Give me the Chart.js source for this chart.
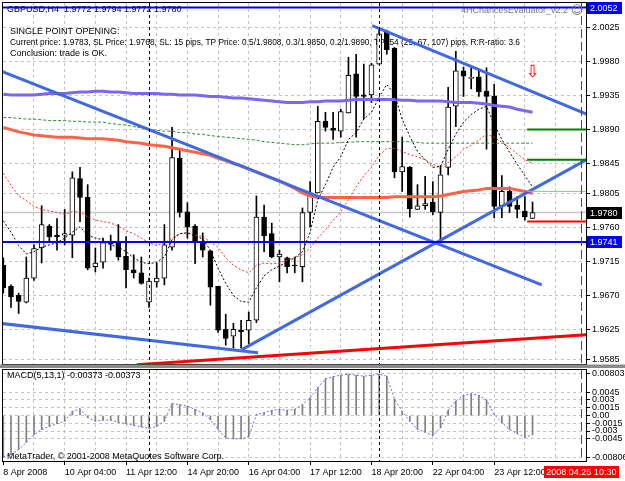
<!DOCTYPE html>
<html>
<head>
<meta charset="utf-8">
<script src="https://cdn.jsdelivr.net/npm/chart.js@4.4.0/dist/chart.umd.min.js"></script>
<style>
  html, body { margin: 0; padding: 0; background: #fff; }
  #wrap { position: relative; width: 625px; height: 481px; overflow: hidden; background: #fff; }
  #priceChart { position: absolute; left: 0; top: 0; }
  #macdChart { position: absolute; left: 0; top: 368px; }
</style>
</head>
<body>
<div id="wrap">
  <canvas id="priceChart" width="625" height="368"></canvas>
  <canvas id="macdChart" width="625" height="113"></canvas>
</div>
<script>
// GBPUSD H4 bars, index 0 = 8 Apr 2008 00:00
var opens = [1.9710,1.9682,1.9670,1.9661,1.9693,1.9733,1.9762,1.9750,1.9750,1.9750,
  1.9825,1.9800,1.9708,1.9714,1.9741,1.9741,1.9722,1.9704,1.9700,1.9661,
  1.9688,1.9693,1.9734,1.9852,1.9781,1.9762,1.9740,1.9729,1.9682,1.9625,
  1.9616,1.9624,1.9624,1.9637,1.9774,1.9752,1.9721,1.9720,1.9710,1.9708,
  1.9780,1.9806,1.9901,1.9892,1.9888,1.9912,1.9964,1.9936,1.9936,1.9977,
  2.0020,1.9998,1.9834,1.9840,1.9784,1.9789,1.9794,1.9780,1.9840,1.9921,
  1.9968,1.9958,1.9960,1.9941,1.9934,1.9789,1.9808,1.9790,1.9782,1.9772];
var highs = [1.9720,1.9684,1.9673,1.9721,1.9737,1.9789,1.9764,1.9772,1.9784,1.9834,
  1.9840,1.9817,1.9733,1.9746,1.9750,1.9764,1.9748,1.9724,1.9721,1.9693,
  1.9713,1.9764,1.9893,1.9864,1.9793,1.9764,1.9753,1.9730,1.9682,1.9645,
  1.9633,1.9637,1.9648,1.9802,1.9790,1.9766,1.9730,1.9721,1.9721,1.9786,
  1.9821,1.9921,1.9913,1.9913,1.9917,1.9986,1.9990,1.9977,1.9978,2.0022,
  2.0022,1.9999,1.9880,1.9841,1.9817,1.9828,1.9821,1.9842,1.9946,1.9994,
  1.9973,1.9972,1.9968,1.9972,1.9950,1.9829,1.9814,1.9801,1.9801,1.9794];
var lows = [1.9673,1.9654,1.9646,1.9660,1.9690,1.9713,1.9740,1.9730,1.9737,1.9720,
  1.9768,1.9704,1.9701,1.9706,1.9730,1.9717,1.9680,1.9693,1.9685,1.9654,
  1.9681,1.9684,1.9730,1.9774,1.9746,1.9712,1.9721,1.9657,1.9621,1.9604,
  1.9600,1.9600,1.9606,1.9634,1.9728,1.9720,1.9688,1.9700,1.9700,1.9688,
  1.9761,1.9806,1.9888,1.9877,1.9880,1.9912,1.9880,1.9904,1.9926,1.9977,
  1.9990,1.9826,1.9808,1.9774,1.9784,1.9784,1.9777,1.9741,1.9830,1.9894,
  1.9934,1.9944,1.9934,1.9864,1.9773,1.9773,1.9780,1.9773,1.9770,1.9772];
var closes = [1.9680,1.9668,1.9662,1.9693,1.9732,1.9764,1.9748,1.9748,1.9752,1.9826,
  1.9800,1.9706,1.9713,1.9740,1.9738,1.9721,1.9704,1.9700,1.9686,1.9689,
  1.9693,1.9737,1.9853,1.9780,1.9761,1.9740,1.9730,1.9681,1.9624,1.9613,
  1.9625,1.9622,1.9637,1.9774,1.9749,1.9721,1.9725,1.9708,1.9709,1.9780,
  1.9806,1.9901,1.9893,1.9889,1.9914,1.9962,1.9934,1.9934,1.9976,2.0017,
  1.9996,1.9834,1.9841,1.9785,1.9789,1.9792,1.9781,1.9830,1.9920,1.9968,
  1.9961,1.9959,1.9940,1.9934,1.9788,1.9808,1.9788,1.9784,1.9774,1.9780];

// moving averages, one value per bar
var maPurple = [1.9937,1.9936,1.9936,1.9936,1.9936,1.9937,1.9938,1.9938,1.9938,1.9939,
  1.9940,1.9940,1.9941,1.9941,1.9940,1.9940,1.9939,1.9938,1.9938,1.9938,
  1.9938,1.9937,1.9937,1.9936,1.9936,1.9936,1.9935,1.9934,1.9934,1.9933,
  1.9932,1.9932,1.9931,1.9930,1.9929,1.9928,1.9927,1.9926,1.9926,1.9926,
  1.9927,1.9927,1.9928,1.9928,1.9928,1.9929,1.9930,1.9930,1.9930,1.9930,
  1.9930,1.9930,1.9929,1.9929,1.9928,1.9928,1.9928,1.9928,1.9927,1.9926,
  1.9926,1.9926,1.9925,1.9924,1.9922,1.9921,1.9920,1.9917,1.9915,1.9913];
var maGreen = [1.9906,1.9906,1.9905,1.9904,1.9904,1.9903,1.9902,1.9902,1.9902,1.9901,
  1.9901,1.9900,1.9900,1.9900,1.9898,1.9897,1.9896,1.9894,1.9892,1.9890,
  1.9889,1.9888,1.9888,1.9886,1.9886,1.9884,1.9884,1.9882,1.9881,1.9880,
  1.9879,1.9878,1.9877,1.9876,1.9874,1.9873,1.9872,1.9871,1.9870,1.9870,
  1.9871,1.9872,1.9872,1.9872,1.9873,1.9873,1.9874,1.9874,1.9874,1.9874,
  1.9874,1.9874,1.9874,1.9874,1.9873,1.9872,1.9872,1.9872,1.9872,1.9872,
  1.9872,1.9872,1.9872,1.9872,1.9872,1.9872,1.9872,1.9872,1.9872,1.9872];
var maOrange = [1.9893,1.9890,1.9887,1.9885,1.9883,1.9882,1.9881,1.9880,1.9880,1.9880,
  1.9879,1.9878,1.9878,1.9878,1.9877,1.9876,1.9874,1.9873,1.9872,1.9870,
  1.9869,1.9868,1.9866,1.9864,1.9862,1.9860,1.9858,1.9856,1.9852,1.9849,
  1.9845,1.9842,1.9838,1.9834,1.9830,1.9826,1.9822,1.9817,1.9812,1.9806,
  1.9802,1.9800,1.9800,1.9800,1.9800,1.9800,1.9800,1.9800,1.9800,1.9800,
  1.9800,1.9801,1.9801,1.9801,1.9801,1.9801,1.9801,1.9802,1.9804,1.9806,
  1.9808,1.9809,1.9810,1.9812,1.9812,1.9812,1.9812,1.9810,1.9808,1.9805];
var maFast = [1.9769,1.9754,1.9736,1.9725,1.9728,1.9734,1.9737,1.9740,1.9746,1.9754,
  1.9761,1.9750,1.9746,1.9744,1.9737,1.9734,1.9728,1.9720,1.9714,1.9712,
  1.9714,1.9721,1.9744,1.9752,1.9753,1.9749,1.9745,1.9730,1.9706,1.9686,
  1.9670,1.9662,1.9661,1.9680,1.9696,1.9704,1.9709,1.9714,1.9720,1.9728,
  1.9754,1.9797,1.9817,1.9840,1.9854,1.9877,1.9886,1.9904,1.9913,1.9933,
  1.9950,1.9937,1.9904,1.9881,1.9861,1.9850,1.9840,1.9841,1.9864,1.9884,
  1.9900,1.9910,1.9917,1.9921,1.9897,1.9877,1.9860,1.9844,1.9829,1.9814];
var maSlow = [1.9832,1.9816,1.9802,1.9796,1.9788,1.9784,1.9782,1.9780,1.9778,1.9781,
  1.9781,1.9774,1.9770,1.9768,1.9766,1.9762,1.9756,1.9752,1.9746,1.9740,
  1.9736,1.9740,1.9746,1.9752,1.9753,1.9750,1.9748,1.9741,1.9734,1.9720,
  1.9710,1.9704,1.9700,1.9710,1.9713,1.9712,1.9713,1.9717,1.9720,1.9724,
  1.9733,1.9746,1.9757,1.9770,1.9781,1.9797,1.9814,1.9829,1.9840,1.9856,
  1.9865,1.9865,1.9861,1.9857,1.9854,1.9850,1.9844,1.9840,1.9846,1.9854,
  1.9864,1.9869,1.9876,1.9884,1.9880,1.9873,1.9866,1.9858,1.9850,1.9845];

// MACD(5,13,1) main value per bar (signal equals main)
var macd = [-0.0080,-0.0076,-0.0066,-0.0052,-0.0037,-0.0027,-0.0021,-0.0016,-0.0011,0.0008,
  0.0013,-0.0004,-0.0011,-0.0009,-0.0009,-0.0013,-0.0016,-0.0019,-0.0022,-0.0025,
  -0.0021,-0.0011,0.0023,0.0021,0.0018,0.0012,0.0005,-0.0008,-0.0027,-0.0043,
  -0.0045,-0.0045,-0.0041,0.0002,0.0005,0.0010,0.0012,0.0010,0.0012,0.0021,
  0.0034,0.0054,0.0071,0.0075,0.0078,0.0080,0.0078,0.0076,0.0078,0.0080,
  0.0076,0.0032,0.0008,-0.0011,-0.0027,-0.0032,-0.0039,-0.0024,0.0010,0.0028,
  0.0039,0.0042,0.0039,0.0030,0.0002,-0.0014,-0.0027,-0.0035,-0.0042,-0.00373];

// trend lines: [[bar, price], [bar, price]]
var blueTrends = [
  [[-0.4, 1.9968], [70.2, 1.9684]],
  [[-0.4, 1.9633], [33.2, 1.9594]],
  [[31.1, 1.9598], [76.2, 1.9851]],
  [[48.1, 2.0028], [76.2, 1.9910]]
];
var redTrend = [[17.4, 1.9578], [76.2, 1.9618]];

var blueLevels = [2.0052, 1.9741];
var bidPrice = 1.9780;
var slPrice = 1.9768;
var tpPrices = [1.9808, 1.9850, 1.9890];
var tradeStartBar = 68.3;
var separatorBars = [19, 49];
var expiryBar = 75.3;
var expiryLabel = '2008.04.25 10:30';
var arrowMarks = [[69, 1.9966]];

var priceTicks = [2.0025, 1.9980, 1.9935, 1.9890, 1.9845, 1.9805, 1.9760, 1.9715, 1.9670, 1.9625, 1.9585];
var macdTicks = [0.00803, 0.0045, 0.003, 0.0015, 0, -0.0015, -0.003, -0.0045, -0.00806];
var macdTickLabels = ['0.00803', '0.0045', '0.003', '0.0015', '0.00', '-0.0015', '-0.003', '-0.0045', '-0.00806'];
var timeLabelBars = [0, 8, 16, 24, 32, 40, 48, 56, 64];
var timeLabels = ['8 Apr 2008', '10 Apr 04:00', '11 Apr 12:00', '14 Apr 20:00', '16 Apr 04:00',
  '17 Apr 12:00', '18 Apr 20:00', '22 Apr 04:00', '23 Apr 12:00'];

var chartTitle = 'GBPUSD,H4  1.9772 1.9794 1.9772 1.9780';
var infoLines = [
  'SINGLE POINT OPENING:',
  'Current price: 1.9783, SL Price: 1.9768, SL: 15 pips, TP Price: 0.5/1.9808, 0.3/1.9850, 0.2/1.9890, TP: 54 (25, 67, 107) pips, R:R-ratio: 3.6',
  'Conclusion: trade is OK.'
];
var indicatorName = '4HChancesEvaluator_v2.2';
var macdTitle = 'MACD(5,13,1) -0.00373 -0.00373';
var copyright = 'MetaTrader, \u00a9 2001-2008 MetaQuotes Software Corp.';

var FONT = '"Liberation Sans", Arial, sans-serif';
var X_MIN = -0.04, X_MAX = 75.97;
var GRID = '#c4c4c4';

Chart.defaults.font.family = FONT;
Chart.defaults.font.size = 9;
Chart.defaults.color = '#000';

function series(values) {
  return values.map(function (v, i) { return {x: i, y: v}; });
}
function segment(a, b) {
  return [{x: a[0], y: a[1]}, {x: b[0], y: b[1]}];
}
function lineSet(data, color, width, dash, order) {
  return {type: 'line', data: data, borderColor: color, borderWidth: width, borderDash: dash || [],
    pointRadius: 0, tension: 0, fill: false, order: order};
}
function gridColor(c) {
  return c.tick && c.tick.value === 0 ? 'rgba(0,0,0,0)' : GRID;
}
function xTicks(scale) {
  var t = [];
  for (var b = 0; b <= 72; b += 4) t.push({value: b});
  scale.ticks = t;
}

function drawFrame(chart) {
  var a = chart.chartArea, ctx = chart.ctx;
  ctx.save();
  ctx.strokeStyle = '#000';
  ctx.lineWidth = 1;
  ctx.strokeRect(Math.round(a.left) - 0.5, Math.round(a.top) - 0.5,
    Math.round(a.right - a.left) + 1, Math.round(a.bottom - a.top) + 1);
  ctx.restore();
}

function drawVerticals(chart) {
  var ctx = chart.ctx, a = chart.chartArea, xs = chart.scales.x, x;
  ctx.save();
  ctx.lineWidth = 1;
  ctx.strokeStyle = '#000';
  ctx.setLineDash([3, 3]);
  separatorBars.forEach(function (b) {
    x = Math.round(xs.getPixelForValue(b)) + 0.5;
    ctx.beginPath(); ctx.moveTo(x, a.top); ctx.lineTo(x, a.bottom); ctx.stroke();
  });
  ctx.strokeStyle = '#ff0000';
  ctx.setLineDash([9, 4]);
  x = Math.round(xs.getPixelForValue(expiryBar)) + 0.5;
  ctx.beginPath(); ctx.moveTo(x, a.top); ctx.lineTo(x, a.bottom); ctx.stroke();
  ctx.restore();
}

function priceTag(chart, price, bg) {
  var ctx = chart.ctx;
  var y = chart.scales.y.getPixelForValue(price);
  ctx.save();
  ctx.fillStyle = bg;
  ctx.fillRect(587, Math.round(y) - 6, 35, 12);
  ctx.fillStyle = '#fff';
  ctx.font = '9px ' + FONT;
  ctx.textBaseline = 'middle';
  ctx.fillText(price.toFixed(4), 590, y + 0.5);
  ctx.restore();
}

var priceDecor = {
  id: 'priceDecor',
  beforeDatasetsDraw: function (chart) {
    var ctx = chart.ctx;
    ctx.save();
    ctx.font = '9px ' + FONT;
    ctx.fillStyle = '#000';
    ctx.textBaseline = 'middle';
    ctx.fillText(chartTitle, 7, 10);
    ctx.fillText(infoLines[0], 10, 32);
    ctx.fillText(infoLines[1], 10, 43, 510);
    ctx.fillText(infoLines[2], 10, 54);
    ctx.fillStyle = '#7a7a7a';
    ctx.textAlign = 'right';
    ctx.fillText(indicatorName, 568, 11);
    ctx.restore();
  },
  afterDatasetsDraw: function (chart) {
    var ctx = chart.ctx;
    drawVerticals(chart);
    ctx.save();
    ctx.fillStyle = '#ff0000';
    ctx.font = '17px "DejaVu Sans"';
    ctx.textAlign = 'center';
    ctx.textBaseline = 'middle';
    arrowMarks.forEach(function (m) {
      ctx.fillText('\u21e9', chart.scales.x.getPixelForValue(m[0]), chart.scales.y.getPixelForValue(m[1]));
    });
    ctx.restore();
  },
  afterDraw: function (chart) {
    var ctx = chart.ctx;
    drawFrame(chart);
    priceTag(chart, blueLevels[0], '#0000ff');
    priceTag(chart, bidPrice, '#000000');
    priceTag(chart, blueLevels[1], '#0000ff');
    ctx.save();
    ctx.fillStyle = '#8c8c8c';
    ctx.fillRect(0, 364.5, 625, 3.5);
    ctx.fillStyle = '#707070';
    ctx.font = '12px "DejaVu Sans"';
    ctx.textAlign = 'center';
    ctx.textBaseline = 'middle';
    ctx.fillText('\u263a', 577, 11);
    ctx.restore();
  }
};

var macdDecor = {
  id: 'macdDecor',
  afterDatasetsDraw: function (chart) {
    var ctx = chart.ctx;
    drawVerticals(chart);
    ctx.save();
    ctx.font = '9px ' + FONT;
    ctx.fillStyle = '#000';
    ctx.textBaseline = 'middle';
    ctx.fillText(macdTitle, 7, 8);
    ctx.fillText(copyright, 7, 89);
    ctx.restore();
  },
  afterDraw: function (chart) {
    var ctx = chart.ctx;
    drawFrame(chart);
    var x = chart.scales.x.getPixelForValue(expiryBar);
    ctx.save();
    ctx.fillStyle = '#ff0000';
    ctx.fillRect(Math.round(x) - 37, 98, 75, 12);
    ctx.fillStyle = '#fff';
    ctx.font = '9px ' + FONT;
    ctx.textAlign = 'center';
    ctx.textBaseline = 'middle';
    ctx.fillText(expiryLabel, x + 0.5, 104.5);
    ctx.restore();
  }
};

var bodyColors = closes.map(function (c, i) { return c >= opens[i] ? '#ffffff' : '#000000'; });

var priceSets = [
  lineSet(segment([X_MIN, bidPrice], [X_MAX, bidPrice]), '#c8c8c8', 1.5, null, 95),
  {type: 'bar', data: lows.map(function (l, i) { return {x: i, y: [l, highs[i]]}; }),
    backgroundColor: '#000', barThickness: 1, grouped: false, order: 90},
  {type: 'bar', data: opens.map(function (o, i) { return {x: i, y: [o, closes[i]]}; }),
    backgroundColor: bodyColors, borderColor: '#000', borderWidth: 1, borderSkipped: false,
    barThickness: 5, minBarLength: 1, grouped: false, order: 80},
  lineSet(series(maGreen), '#2e8b2e', 1, [3, 2], 60),
  lineSet(series(maPurple), '#7b68ee', 3, null, 58),
  lineSet(series(maOrange), '#ff6347', 3, null, 56),
  lineSet(series(maSlow), '#ff2a2a', 1, [2, 2], 54),
  lineSet(series(maFast), '#000000', 1, [2, 2], 52),
  lineSet(segment(redTrend[0], redTrend[1]), '#ff0000', 3, null, 21)
];
blueTrends.forEach(function (t) {
  priceSets.push(lineSet(segment(t[0], t[1]), '#4169e1', 3, null, 20));
});
blueLevels.forEach(function (p) {
  priceSets.push(lineSet(segment([X_MIN, p], [X_MAX, p]), '#0000ff', 2, null, 10));
});
priceSets.push(lineSet(segment([tradeStartBar, slPrice], [X_MAX, slPrice]), '#ff0000', 2, null, 11));
tpPrices.forEach(function (p, i) {
  priceSets.push(lineSet(segment([tradeStartBar, p], [X_MAX, p]),
    i === 0 ? '#80d080' : '#008000', i === 0 ? 1 : 2, null, 12));
});

new Chart(document.getElementById('priceChart'), {
  type: 'bar',
  data: {datasets: priceSets},
  options: {
    responsive: false,
    animation: false,
    devicePixelRatio: 1,
    events: [],
    layout: {padding: {left: 3, top: 3, right: 0, bottom: 4}},
    plugins: {legend: {display: false}, tooltip: {enabled: false}},
    scales: {
      x: {
        type: 'linear', min: X_MIN, max: X_MAX, offset: false,
        afterBuildTicks: xTicks,
        afterFit: function (s) { s.height = 0; s.paddingLeft = 0; s.paddingRight = 0; },
        ticks: {display: false},
        grid: {color: gridColor, drawTicks: false, offset: false},
        border: {display: false, dash: [3, 3]}
      },
      y: {
        position: 'right', min: 1.9579, max: 2.0058,
        afterBuildTicks: function (s) { s.ticks = priceTicks.map(function (v) { return {value: v}; }); },
        afterFit: function (s) { s.width = 39; s.paddingTop = 0; s.paddingBottom = 0; },
        ticks: {autoSkip: false, padding: 2, callback: function (v) { return v.toFixed(4); }},
        grid: {color: GRID, tickColor: '#000', tickLength: 4},
        border: {display: false, dash: [3, 3]}
      }
    }
  },
  plugins: [priceDecor]
});

new Chart(document.getElementById('macdChart'), {
  type: 'bar',
  data: {
    datasets: [
      {type: 'bar', data: series(macd), backgroundColor: '#808080', barThickness: 1, grouped: false, order: 20},
      lineSet(series(macd), '#6a6ae6', 1, [2, 2], 10)
    ]
  },
  options: {
    responsive: false,
    animation: false,
    devicePixelRatio: 1,
    events: [],
    layout: {padding: {left: 3, top: 2, right: 0, bottom: 0}},
    plugins: {legend: {display: false}, tooltip: {enabled: false}},
    scales: {
      x: {
        type: 'linear', min: X_MIN, max: X_MAX, offset: false,
        afterBuildTicks: xTicks,
        afterFit: function (s) { s.height = 20; s.paddingLeft = 0; s.paddingRight = 0; },
        ticks: {
          autoSkip: false, maxRotation: 0, align: 'start', padding: 2,
          callback: function (v) {
            var k = timeLabelBars.indexOf(v);
            return k >= 0 ? timeLabels[k] : '';
          }
        },
        grid: {
          color: gridColor, offset: false, tickLength: 4,
          tickColor: function (c) {
            return c.tick && timeLabelBars.indexOf(c.tick.value) >= 0 ? '#000' : 'rgba(0,0,0,0)';
          }
        },
        border: {display: false, dash: [3, 3]}
      },
      y: {
        position: 'right', min: -0.0088, max: 0.0088,
        afterBuildTicks: function (s) { s.ticks = macdTicks.map(function (v) { return {value: v}; }); },
        afterFit: function (s) { s.width = 39; s.paddingTop = 0; s.paddingBottom = 0; },
        ticks: {autoSkip: false, padding: 2, callback: function (v, i) { return macdTickLabels[i]; }},
        grid: {color: GRID, tickColor: '#000', tickLength: 4},
        border: {display: false, dash: [3, 3]}
      }
    }
  },
  plugins: [macdDecor]
});
</script>
</body>
</html>
